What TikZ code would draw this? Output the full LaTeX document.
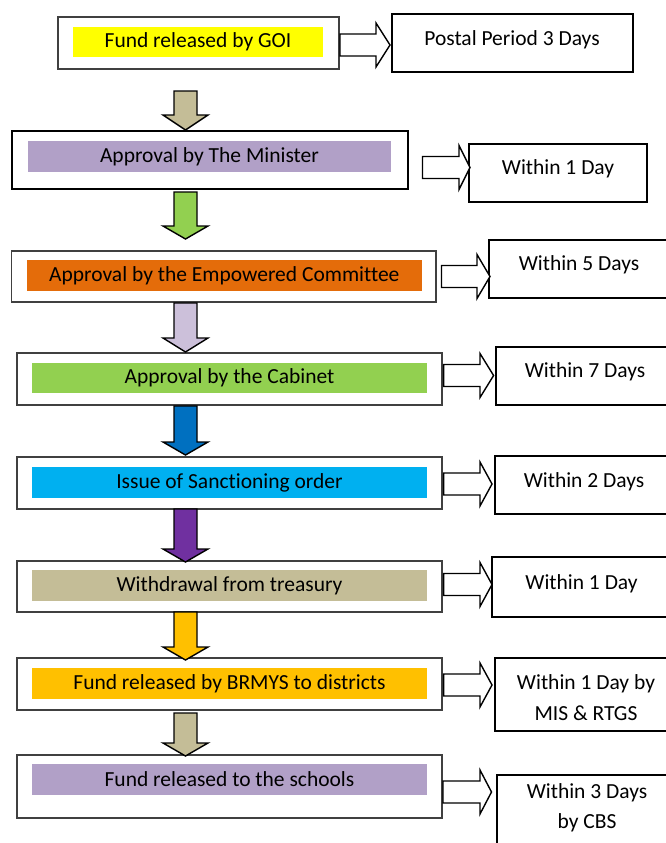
\documentclass[tikz,border=0pt]{standalone}
\usepackage{fontspec}
\setmainfont{Carlito}[Ligatures=NoCommon]
\definecolor{cyel}{HTML}{FFFF00}
\definecolor{cpur}{HTML}{B1A0C7}
\definecolor{cora}{HTML}{E46C0A}
\definecolor{cgrn}{HTML}{92D050}
\definecolor{ccya}{HTML}{00B0F0}
\definecolor{ctan}{HTML}{C4BD97}
\definecolor{cgold}{HTML}{FFC000}
\definecolor{clil}{HTML}{CCC0DA}
\definecolor{cblu}{HTML}{0070C0}
\definecolor{cvio}{HTML}{7030A0}
\newcommand{\boxat}[6]{% name, style, x1,y1,x2,y2
  \node[#2, anchor=north west, minimum width={#5-#3}, minimum height={#6-#4}] (#1) at (#3,#4) {};}
\newcommand{\downarr}[4]{% colour, top, headstart, tip
  \draw[blockarrow, fill=#1] (174,#2) -- (197,#2) -- (197,#3) -- (208,#3) -- (185.5,#4) -- (163,#3) -- (174,#3) -- cycle;}
\newcommand{\rightarr}[4]{% x0, xhead, xtip, ycentre
  \draw[blockarrow, fill=white] (#1,#4-11) -- (#2,#4-11) -- (#2,#4-22) -- (#3,#4) -- (#2,#4+22) -- (#2,#4+11) -- (#1,#4+11) -- cycle;}
\begin{document}
\begin{tikzpicture}[x=1pt,y=-1pt,
  outerbox/.style={draw=black!75, line width=1.3pt, fill=white, inner sep=0pt, outer sep=0pt},
  outerthick/.style={draw=black, line width=2pt, fill=white, inner sep=0pt, outer sep=0pt},
  innerbox/.style={draw=none, inner sep=0pt, outer sep=0pt, font=\fontsize{21.5}{26}\selectfont},
  timebox/.style={draw=black, line width=2pt, fill=white, inner sep=0pt, outer sep=0pt},
  timetext/.style={inner sep=0pt, font=\fontsize{21.5}{26}\selectfont},
  blockarrow/.style={draw=black, line width=1.4pt, line join=miter}]
\useasboundingbox (0,0) rectangle (665,843);
\fill[white] (0,0) rectangle (665,843);

% left process boxes
\boxat{b1}{outerbox}{58}{17}{339}{69}
\boxat{b2}{outerthick}{11.5}{131}{407.5}{189}
\boxat{b3}{outerbox}{11.5}{251}{436}{302}
\boxat{b4}{outerbox}{17}{353}{442}{405}
\boxat{b5}{outerbox}{17}{457}{442}{509}
\boxat{b6}{outerbox}{17}{561}{442}{612}
\boxat{b7}{outerbox}{17}{658}{442}{710}
\boxat{b8}{outerbox}{17}{755}{442}{818}

% coloured labels
\node[innerbox, fill=cyel, minimum width=250, minimum height=30] (i1) at (198,42) {Fund released by GOI};
\node[innerbox, fill=cpur, minimum width=363, minimum height=31] (i2) at (209.5,156.5) {Approval by The Minister};
\node[innerbox, fill=cora, minimum width=394.6, minimum height=30.7] (i3) at (224.3,275.3) {Approval by the Empowered Committee};
\node[innerbox, fill=cgrn, minimum width=395, minimum height=30] (i4) at (229.5,378) {Approval by the Cabinet};
\node[innerbox, fill=ccya, minimum width=395, minimum height=31] (i5) at (229.5,482.5) {Issue of Sanctioning order};
\node[innerbox, fill=ctan, minimum width=395, minimum height=31] (i6) at (229.5,585.5) {Withdrawal from treasury};
\node[innerbox, fill=cgold, minimum width=395, minimum height=31] (i7) at (229.5,683.5) {Fund released by BRMYS to districts};
\node[innerbox, fill=cpur, minimum width=395, minimum height=31] (i8) at (229.5,779.5) {Fund released to the schools};

% time boxes
\boxat{r1}{timebox}{392}{14}{633}{72}
\boxat{r2}{timebox}{469}{144}{647}{202}
\boxat{r3}{timebox}{489}{240}{668}{298}
\boxat{r4}{timebox}{496}{347}{668}{405}
\boxat{r5}{timebox}{494.5}{456}{668}{514}
\boxat{r6}{timebox}{491.5}{557}{668}{617}
\boxat{r7}{timebox}{495}{658}{668}{731}
\boxat{r8}{timebox}{497}{775}{668}{860}

\node[timetext] (t1) at (512,40) {Postal Period 3 Days};
\node[timetext] (t2) at (558,169) {Within 1 Day};
\node[timetext] (t3) at (579,265) {Within 5 Days};
\node[timetext] (t4) at (585,372) {Within 7 Days};
\node[timetext] (t5) at (584,482) {Within 2 Days};
\node[timetext] (t6) at (581.5,584) {Within 1 Day};
\node[timetext] (t7a) at (586,684) {Within 1 Day by};
\node[timetext] (t7b) at (586,713) {MIS \& RTGS};
\node[timetext] (t8a) at (587,793) {Within 3 Days};
\node[timetext] (t8b) at (587,823) {by CBS};

% down arrows
\downarr{ctan}{91}{115}{130}
\downarr{cgrn}{192}{226}{239}
\downarr{clil}{303}{338}{352}
\downarr{cblu}{406}{442}{455}
\downarr{cvio}{509}{549}{562}
\downarr{cgold}{612}{647}{660}
\downarr{ctan}{713}{743}{756}

% right arrows
\rightarr{340}{376}{390}{45}
\rightarr{422.5}{459}{470}{167.5}
\rightarr{441.5}{477}{490}{276.5}
\rightarr{443.6}{480}{493.6}{375.5}
\rightarr{443.6}{480}{492}{484}
\rightarr{443.6}{480}{492}{584.5}
\rightarr{443.6}{480}{492}{685}
\rightarr{443}{480}{491.5}{792}
\end{tikzpicture}
\end{document}
